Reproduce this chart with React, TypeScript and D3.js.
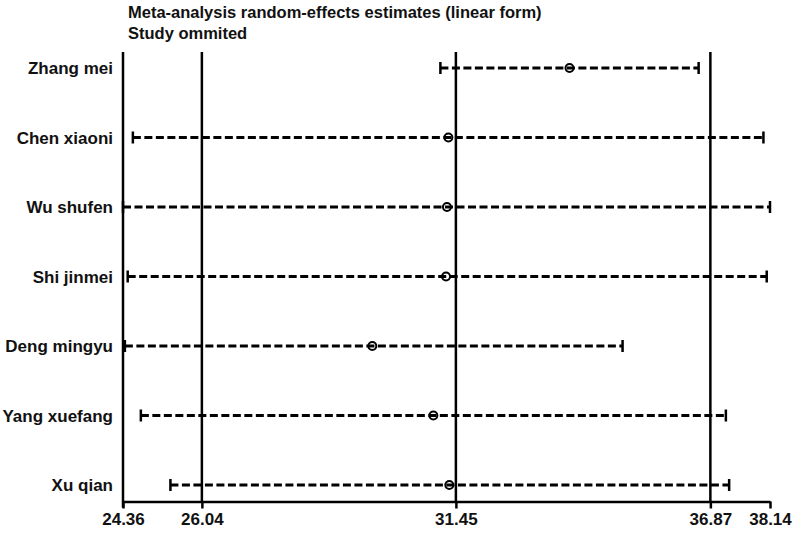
import React, { useRef, useEffect } from 'react';
import * as d3 from 'd3';

// study omitted in each row
const studies: string[] = [
  'Zhang mei',
  'Chen xiaoni',
  'Wu shufen',
  'Shi jinmei',
  'Deng mingyu',
  'Yang xuefang',
  'Xu qian',
];
const estimates: number[] = [33.87, 31.29, 31.26, 31.24, 29.67, 30.97, 31.31];
const lowerCI: number[] = [31.12, 24.57, 24.36, 24.46, 24.4, 24.74, 25.37];
const upperCI: number[] = [36.62, 38.0, 38.14, 38.07, 35.0, 37.2, 37.27];

// overall estimate and its CI (reference lines)
const overall: number[] = [26.04, 31.45, 36.87];
const tickValues: number[] = [24.36, 26.04, 31.45, 36.87, 38.14];
const titleLines: string[] = [
  'Meta-analysis random-effects estimates (linear form)',
  'Study ommited',
];

const FONT = 'Liberation Sans, Arial, sans-serif';

function App() {
  const svgRef = useRef<SVGSVGElement>(null);

  useEffect(() => {
    const svg = d3.select(svgRef.current);
    svg.selectAll('*').remove();

    const top = 52;
    const baseY = 501.5;

    const x = d3.scaleLinear().domain([24.36, 38.14]).range([123, 770]);
    const y = d3.scalePoint<string>().domain(studies).range([68, 485]);

    // title
    svg
      .selectAll('.title')
      .data(titleLines)
      .join('text')
      .attr('class', 'title')
      .attr('x', 128)
      .attr('y', (d, i) => 17.5 + i * 21)
      .attr('font-family', FONT)
      .attr('font-weight', 'bold')
      .attr('font-size', 16.5)
      .attr('fill', '#111')
      .text((d) => d);

    // left axis line + reference lines
    svg
      .append('line')
      .attr('x1', x(24.36))
      .attr('x2', x(24.36))
      .attr('y1', top)
      .attr('y2', baseY + 6)
      .attr('stroke', '#000')
      .attr('stroke-width', 2.5);

    svg
      .selectAll('.ref')
      .data(overall)
      .join('line')
      .attr('class', 'ref')
      .attr('x1', (d) => x(d))
      .attr('x2', (d) => x(d))
      .attr('y1', top)
      .attr('y2', baseY)
      .attr('stroke', '#000')
      .attr('stroke-width', 2.5);

    // bottom axis
    const axis = d3
      .axisBottom(x)
      .tickValues(tickValues)
      .tickSize(7)
      .tickSizeOuter(0)
      .tickFormat(d3.format('.2f'));

    const gx = svg
      .append('g')
      .attr('transform', `translate(0,${baseY})`)
      .call(axis);
    gx.select('.domain').attr('stroke', '#000').attr('stroke-width', 2.5);
    gx.selectAll('.tick line').attr('stroke', '#000').attr('stroke-width', 2.5);
    gx.selectAll('.tick text')
      .attr('y', 23.5)
      .attr('dy', 0)
      .attr('font-family', FONT)
      .attr('font-weight', 'bold')
      .attr('font-size', 17)
      .attr('fill', '#111');

    // rows
    const rows = svg
      .selectAll('.row')
      .data(studies)
      .join('g')
      .attr('class', 'row')
      .attr('transform', (d) => `translate(0,${y(d)})`);

    rows
      .append('text')
      .attr('x', 113)
      .attr('y', 6)
      .attr('text-anchor', 'end')
      .attr('font-family', FONT)
      .attr('font-weight', 'bold')
      .attr('font-size', 17)
      .attr('fill', '#111')
      .text((d) => d);

    rows
      .append('line')
      .attr('x1', (d, i) => x(lowerCI[i]))
      .attr('x2', (d, i) => x(upperCI[i]))
      .attr('stroke', '#000')
      .attr('stroke-width', 3)
      .attr('stroke-dasharray', '8,3.5');

    rows
      .selectAll('.cap')
      .data((d, i) => [lowerCI[i], upperCI[i]])
      .join('line')
      .attr('class', 'cap')
      .attr('x1', (v) => x(v))
      .attr('x2', (v) => x(v))
      .attr('y1', -6)
      .attr('y2', 6)
      .attr('stroke', '#000')
      .attr('stroke-width', 2.5);

    rows
      .append('circle')
      .attr('cx', (d, i) => x(estimates[i]))
      .attr('cy', 0)
      .attr('r', 4)
      .attr('fill', 'none')
      .attr('stroke', '#000')
      .attr('stroke-width', 2);
  }, []);

  return (
    <svg
      ref={svgRef}
      width={800}
      height={536}
      style={{ position: 'absolute', left: 0, top: 0, background: '#fff' }}
    ></svg>
  );
}

export default App;
